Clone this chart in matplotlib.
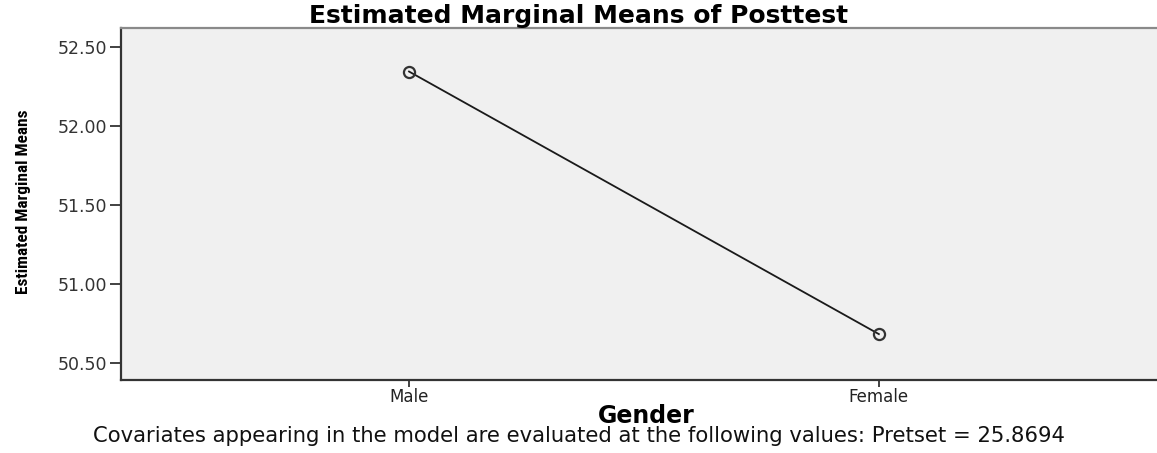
import matplotlib
matplotlib.use("Agg")
import matplotlib.pyplot as plt
from matplotlib import font_manager

# estimated marginal means
genders = ["Male", "Female"]
means = [52.345, 50.683]
yticks = [50.50, 51.00, 51.50, 52.00, 52.50]
pretest_cov = "25.8694"

fonts = [(f.name, f.stretch) for f in font_manager.fontManager.ttflist]
names = {n for n, _ in fonts}
narrow = None
for cand in ["Liberation Sans Narrow", "Roboto Condensed", "Open Sans Condensed",
             "DejaVu Sans Condensed"]:
    if cand in names:
        narrow = cand
        break
if narrow is None and ("DejaVu Sans", "condensed") in fonts:
    narrow = "DejaVu Sans"

fig = plt.figure(figsize=(11.57, 4.53), dpi=100)
ax = fig.add_axes([0.1046, 0.161, 0.8954, 0.777])
ax.set_facecolor("#f0f0f0")

x = list(range(len(genders)))
ax.plot(x, means, color="#1a1a1a", lw=1.3, marker="o", ms=8,
        mfc="none", mec="#333333", mew=1.6)

ax.set_xlim(-0.613, 1.592)
ax.set_ylim(50.392, 52.62)
ax.set_xticks(x)
ax.set_xticklabels(genders, fontsize=12, color="#222222", family="DejaVu Sans")
ax.set_yticks(yticks)
ax.set_yticklabels(["%.2f" % v for v in yticks], fontsize=12.5, color="#333333",
                   family="DejaVu Sans")
ax.tick_params(axis="y", length=8, width=1.3, color="#333333", pad=2)
ax.tick_params(axis="x", length=5, width=1.3, color="#333333", pad=1)

for s in ["left", "bottom"]:
    ax.spines[s].set_color("#333333")
    ax.spines[s].set_linewidth(1.6)
ax.spines["top"].set_color("#8a8a8a")
ax.spines["top"].set_linewidth(1.6)
ax.spines["right"].set_visible(False)

ax.set_title("Estimated Marginal Means of Posttest", fontsize=18, fontweight="bold",
             family="DejaVu Sans", x=0.442, pad=2)
ax.set_xlabel("Gender", fontsize=17, fontweight="bold", family="DejaVu Sans", labelpad=0)
ax.xaxis.set_label_coords(0.507, -0.068)
if narrow:
    ax.set_ylabel("Estimated Marginal Means", fontsize=12.4, fontweight="bold",
                  family=narrow, fontstretch="condensed")
else:
    ax.set_ylabel("Estimated Marginal Means", fontsize=9.5, fontweight="bold",
                  family="DejaVu Sans")
ax.yaxis.set_label_coords(-0.087, 0.506)

fig.text(0.5, 0.037,
         "Covariates appearing in the model are evaluated at the following values: Pretset = "
         + pretest_cov, ha="center", va="center", fontsize=15.2, family="DejaVu Sans",
         color="#111111")

fig.savefig("out.png", dpi=100)
